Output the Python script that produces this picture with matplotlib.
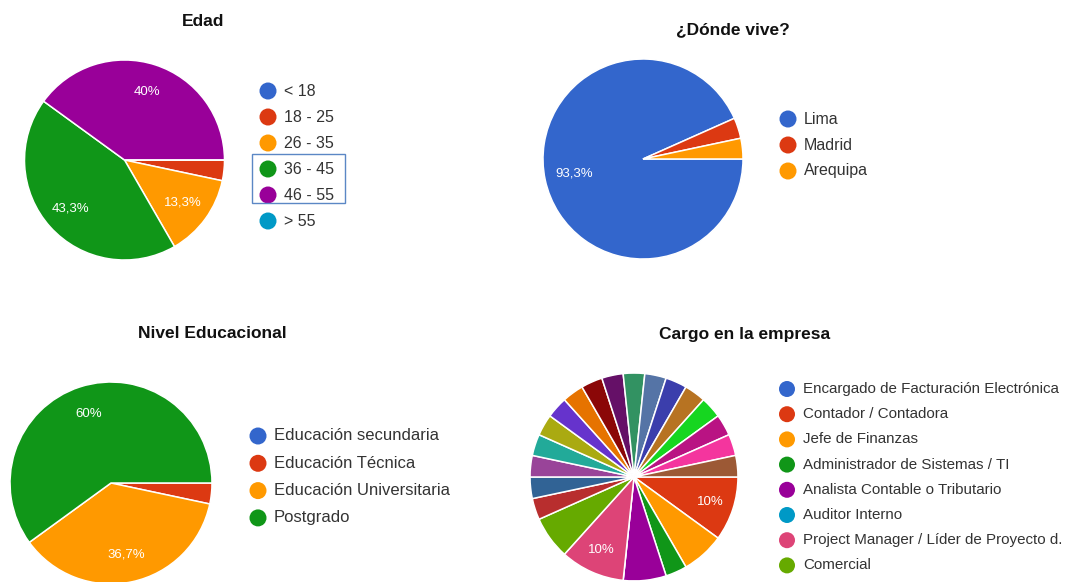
import matplotlib

matplotlib.use("Agg")
import matplotlib.pyplot as plt
from matplotlib.patches import Circle, Rectangle

plt.rcParams["font.family"] = ["Liberation Sans", "DejaVu Sans"]

W, H = 1076, 582

# Paleta por defecto de Google Charts
PALETTE = ["#3366CC", "#DC3912", "#FF9900", "#109618", "#990099", "#0099C6",
           "#DD4477", "#66AA00", "#B82E2E", "#316395", "#994499", "#22AA99",
           "#AAAA11", "#6633CC", "#E67300", "#8B0707", "#651067", "#329262",
           "#5574A6", "#3B3EAC", "#B77322", "#16D620", "#B91383", "#F4359E",
           "#9C5935"]

# ---- datos (30 respuestas)
edad_cats = ["< 18", "18 - 25", "26 - 35", "36 - 45", "46 - 55", "> 55"]
edad_vals = [0, 1, 4, 13, 12, 0]

vive_cats = ["Lima", "Madrid", "Arequipa"]
vive_vals = [28, 1, 1]

nivel_cats = ["Educación secundaria", "Educación Técnica",
              "Educación Universitaria", "Postgrado"]
nivel_vals = [0, 1, 11, 18]

cargo_cats = ["Encargado de Facturación Electrónica", "Contador / Contadora",
              "Jefe de Finanzas", "Administrador de Sistemas / TI",
              "Analista Contable o Tributario", "Auditor Interno",
              "Project Manager / Líder de Proyecto d.", "Comercial"]
cargo_vals = [0, 3, 2, 1, 2, 0, 3, 2,
              1, 1, 1, 1, 1, 1, 1, 1, 1, 1, 1, 1, 1, 1, 1, 1, 1]


def pct_label(p):
    if p < 9:
        return ""
    s = f"{p:.1f}".replace(".", ",")
    if s.endswith(",0"):
        s = s[:-2]
    return s + "%"


def pie(fig, cx, cy, r, vals, pctdist=0.72):
    ax = fig.add_axes([(cx - r) / W, 1 - (cy + r) / H, 2 * r / W, 2 * r / H])
    ax.pie(vals, colors=PALETTE[:len(vals)], startangle=0, counterclock=False,
           radius=1, autopct=pct_label, pctdistance=pctdist,
           wedgeprops=dict(edgecolor="white", linewidth=1.1),
           textprops=dict(color="white", fontsize=9.5))
    ax.set_xlim(-1.01, 1.01)
    ax.set_ylim(-1.01, 1.01)
    return ax


def legend(ax, x, y0, step, cats, fs=11, r=8.5):
    for i, name in enumerate(cats):
        y = y0 + i * step
        ax.add_patch(Circle((x, y), r, fc=PALETTE[i], ec="none"))
        ax.text(x + 16, y, name, ha="left", va="center", fontsize=fs, color="#333333")


fig = plt.figure(figsize=(W / 100, H / 100), dpi=100)
canvas = fig.add_axes([0, 0, 1, 1])
canvas.set_xlim(0, W)
canvas.set_ylim(H, 0)
canvas.axis("off")

title_kw = dict(ha="center", va="center", fontsize=12.5, weight="bold", color="#111111")

# Edad
canvas.text(203, 22, "Edad", **title_kw)
pie(fig, 124.5, 160, 101, edad_vals)
legend(canvas, 268, 91, 26, edad_cats, fs=11.5)
canvas.add_patch(Rectangle((252, 154), 93, 49, fc="none", ec="#5B87C5", lw=1.0))

# ¿Dónde vive?
canvas.text(733, 30, "¿Dónde vive?", **title_kw)
pie(fig, 643, 159, 101, vive_vals, pctdist=0.7)
legend(canvas, 788, 119, 26, vive_cats, fs=11.5)

# Nivel Educacional
canvas.text(212, 334, "Nivel Educacional", **title_kw)
pie(fig, 111, 483, 102, nivel_vals)
legend(canvas, 258, 436, 27.3, nivel_cats, fs=12)

# Cargo en la empresa
canvas.text(745, 334, "Cargo en la empresa", **title_kw)
pie(fig, 634, 477, 105, cargo_vals, pctdist=0.77)
legend(canvas, 787, 389, 25.2, cargo_cats, fs=10.9, r=8)

fig.savefig("out.png", dpi=100, facecolor="white")
